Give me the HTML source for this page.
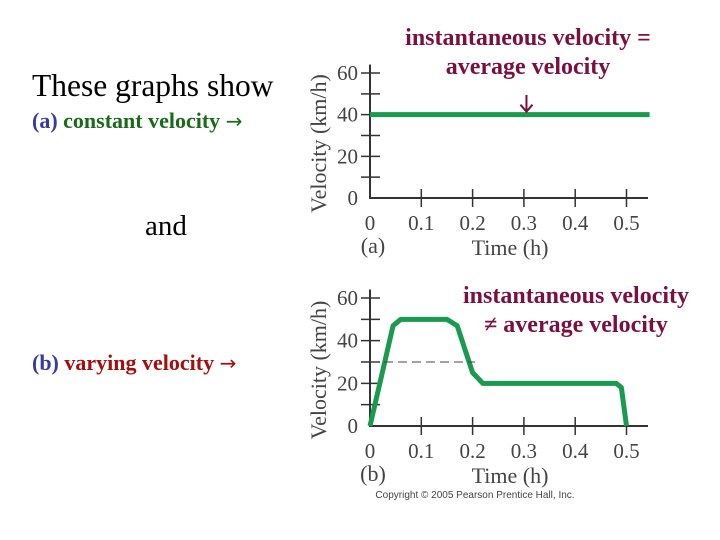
<!DOCTYPE html>
<html><head><meta charset="utf-8"><style>
body{margin:0;width:720px;height:540px;background:#fff;overflow:hidden;position:relative;font-family:"Liberation Serif",serif}
.t{position:absolute;white-space:nowrap}
.ar{font-family:"DejaVu Sans",sans-serif;font-size:20px;font-weight:normal}
</style></head><body>
<div class="t" style="left:32px;top:68px;font-size:31.5px;color:#000">These graphs show</div>
<div class="t" style="left:32px;top:108px;font-size:22px;font-weight:bold"><span style="color:#3a3a9a">(a)</span> <span style="color:#1a6a1a">constant velocity <span class="ar">→</span></span></div>
<div class="t" style="left:145px;top:210px;font-size:29px">and</div>
<div class="t" style="left:32px;top:350px;font-size:22px;font-weight:bold"><span style="color:#3a3a9a">(b)</span> <span style="color:#a01010">varying velocity <span class="ar">→</span></span></div>
<div class="t" style="left:528px;top:24px;transform:translateX(-50%);text-align:center;font-size:24px;font-weight:bold;color:#7a1040;line-height:29px">instantaneous velocity =<br>average velocity</div>
<div class="t" style="left:576px;top:282px;transform:translateX(-50%);text-align:center;font-size:24px;font-weight:bold;color:#7a1040;line-height:29px">instantaneous velocity<br>≠ average velocity</div>
<svg id="s" width="720" height="540" style="position:absolute;left:0;top:0"></svg>
<script>
const xTicks=[0,0.1,0.2,0.3,0.4,0.5];
const yTicks=[0,20,40,60];
const xTickLabels=["0","0.1","0.2","0.3","0.4","0.5"];
const aTimes=[0,0.545];
const aVel=[40,40];
const bTimes=[0,0.045,0.06,0.15,0.17,0.2,0.22,0.48,0.49,0.5];
const bVel=[0,47,50,50,47,25,20,20,18,0];
const bAvg=30;
const NS="http://www.w3.org/2000/svg",s=document.getElementById('s');
function el(t,a,p){const e=document.createElementNS(NS,t);for(const k in a)e.setAttribute(k,a[k]);(p||s).appendChild(e);return e;}
function chart(id,y0,y60,times,vel,tag){
 const g=el('g',{});
 
 
 const X=v=>370+v*513, Y=v=>y0-(v/60)*(y0-y60);
 const ax=el('path',{d:`M370 ${Y(64)} V${y0} H648`,stroke:'#333','stroke-width':2,fill:'none'},g);
 
 
 for(let v=10;v<=60;v+=10){const l=el('line',{x1:361,x2:380,y1:Y(v),y2:Y(v),stroke:'#333','stroke-width':1.5},g);
  
  }
 yTicks.forEach(v=>{const t=el('text',{x:358,y:Y(v)+7,'text-anchor':'end','font-size':21,fill:'#444','font-family':'Liberation Serif'},g);t.textContent=v;
  
  });
 xTicks.forEach((v,i)=>{if(i>0){const l=el('line',{x1:X(v),x2:X(v),y1:y0-9,y2:y0+9,stroke:'#333','stroke-width':1.5},g);
  
  }
  const t=el('text',{x:X(v),y:y0+32,'text-anchor':'middle','font-size':21,fill:'#444','font-family':'Liberation Serif'},g);t.textContent=xTickLabels[i];
  
  });
 const yt=el('text',{x:0,y:0,transform:`translate(326 ${(y0+Y(60))/2+8}) rotate(-90)`,'text-anchor':'middle','font-size':22,fill:'#444','font-family':'Liberation Serif'},g);yt.textContent='Velocity (km/h)';
 
 
 const xt=el('text',{x:510,y:y0+57,'text-anchor':'middle','font-size':22,fill:'#444','font-family':'Liberation Serif'},g);xt.textContent='Time (h)';
 
 
 const pl=el('text',{x:373,y:y0+55,'text-anchor':'middle','font-size':22,fill:'#444','font-family':'Liberation Serif'},g);pl.textContent=tag;
 
 
 const ln=el('polyline',{points:times.map((t,i)=>X(t)+','+Y(vel[i])).join(' '),fill:'none',stroke:'#1a9a50','stroke-width':5,'stroke-linejoin':'round','stroke-linecap':'butt'},g);
 
 
 return {X,Y,g};
}
const a=chart('a',198,73,aTimes,aVel,'(a)');
const ar=el('path',{d:`M${a.X(0.305)} 95 V${a.Y(40)-3} M${a.X(0.305)-6} ${a.Y(40)-10} L${a.X(0.305)} ${a.Y(40)-3} L${a.X(0.305)+6} ${a.Y(40)-10}`,stroke:'#7a1040','stroke-width':2,fill:'none'});


const b=chart('b',426,298,bTimes,bVel,'(b)');
const d=el('line',{x1:370,x2:b.X(0.205),y1:b.Y(bAvg),y2:b.Y(bAvg),stroke:'#444','stroke-width':1,'stroke-dasharray':'9 5'});


const c=el('text',{x:475,y:498,'text-anchor':'middle','font-size':10,fill:'#444','font-family':'Liberation Sans'});c.textContent='Copyright © 2005 Pearson Prentice Hall, Inc.';


</script>
</body></html>
